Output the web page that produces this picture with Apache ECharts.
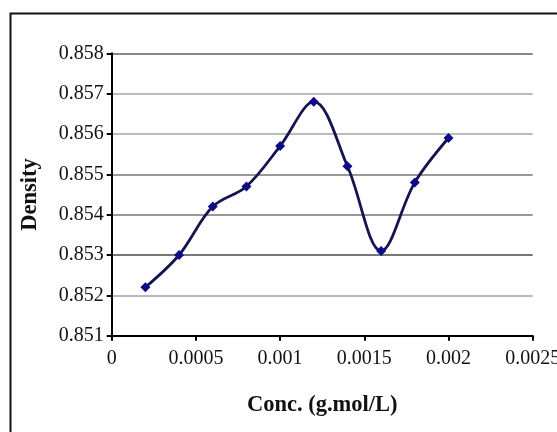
<!DOCTYPE html>
<html>
<head>
<meta charset="utf-8">
<script src="https://cdn.jsdelivr.net/npm/echarts@6/dist/echarts.min.js"></script>
<style>
html,body{margin:0;padding:0;background:#fff;overflow:hidden;}
#chart{width:557px;height:432px;}
</style>
</head>
<body>
<div id="chart"></div>
<script>
var concValues = [0.0002, 0.0004, 0.0006, 0.0008, 0.0010, 0.0012, 0.0014, 0.0016, 0.0018, 0.0020];
var densityValues = [0.8522, 0.8530, 0.8542, 0.8547, 0.8557, 0.8568, 0.8552, 0.8531, 0.8548, 0.8559];
var xTitle = 'Conc. (g.mol/L)';
var yTitle = 'Density';

var seriesData = concValues.map(function (c, i) { return [c, densityValues[i]]; });

var chart = echarts.init(document.getElementById('chart'), null, {renderer: 'canvas'});
var font = 'Liberation Serif';
chart.setOption({
  animation: false,
  backgroundColor: '#ffffff',
  graphic: [{
    type: 'rect',
    shape: {x: 10.5, y: 13.5, width: 700, height: 600},
    style: {fill: 'none', stroke: '#111', lineWidth: 2},
    z: 100
  }],
  grid: {left: 111.7, right: 24.3, top: 53.3, bottom: 96.3, containLabel: false, outerBoundsMode: 'none'},
  xAxis: {
    type: 'value',
    min: 0, max: 0.0025, interval: 0.0005,
    name: xTitle,
    nameLocation: 'middle',
    nameGap: 58,
    nameTextStyle: {fontFamily: font, fontWeight: 'bold', fontSize: 22.5, color: '#111'},
    axisLine: {show: true, onZero: false, lineStyle: {color: '#000', width: 2}},
    axisTick: {show: true, length: 5, inside: false, lineStyle: {color: '#000', width: 2}},
    axisLabel: {fontFamily: font, fontSize: 20, color: '#111', margin: 13, hideOverlap: false,
      showMaxLabel: true, showMinLabel: true,
      formatter: function (v) { return String(+v.toFixed(4)); }},
    splitLine: {show: false}
  },
  yAxis: {
    type: 'value',
    min: 0.851, max: 0.858, interval: 0.001,
    name: yTitle,
    nameLocation: 'middle',
    nameGap: 70,
    nameRotate: 90,
    nameTextStyle: {fontFamily: font, fontWeight: 'bold', fontSize: 22.5, color: '#111'},
    axisLine: {show: true, lineStyle: {color: '#000', width: 2}},
    axisTick: {show: true, length: 5, lineStyle: {color: '#000', width: 2}},
    axisLabel: {fontFamily: font, fontSize: 20, color: '#111', margin: 8,
      formatter: function (v) { return v.toFixed(3); }},
    splitLine: {show: true, lineStyle: {width: 2,
      color: ['#888', '#bbb', '#777', '#999', '#999', '#bbb', '#bbb', '#888']}}
  },
  series: [{
    type: 'line',
    data: seriesData,
    smooth: 0.35,
    symbol: 'diamond',
    symbolSize: 10,
    showAllSymbol: true,
    lineStyle: {color: '#141450', width: 2.8},
    itemStyle: {color: '#0c0c88', borderWidth: 0}
  }]
});
</script>
</body>
</html>
